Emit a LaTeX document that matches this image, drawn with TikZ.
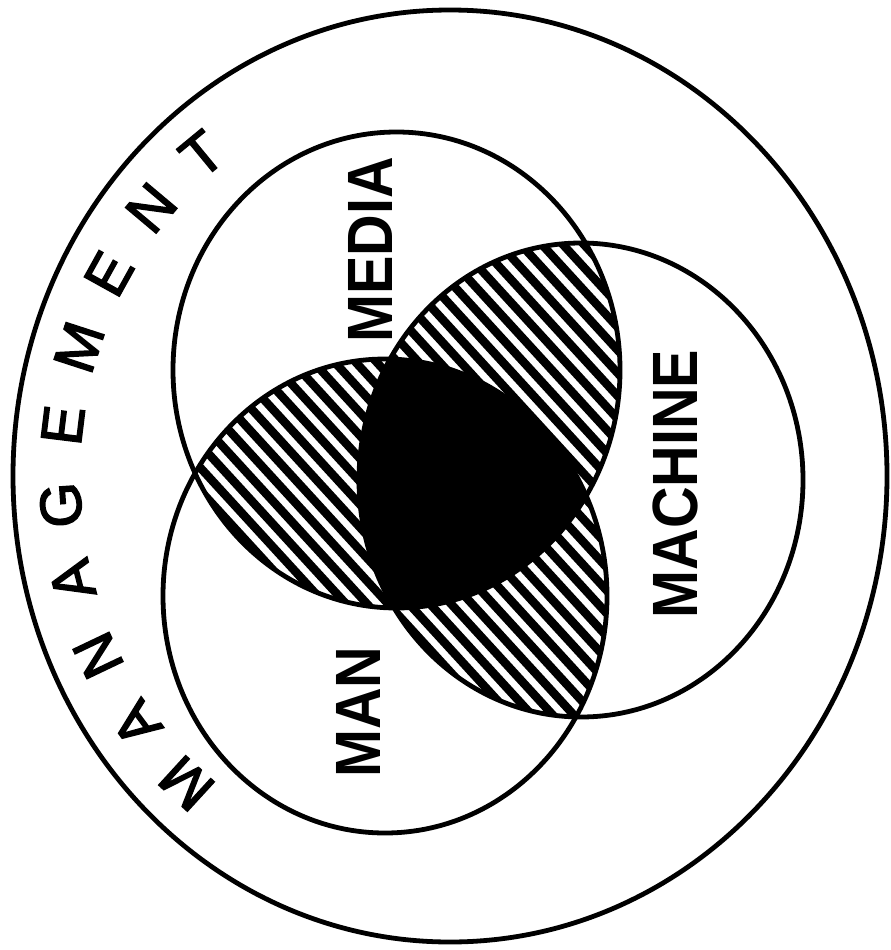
\documentclass[tikz,border=0pt]{standalone}
\usepackage{graphicx}
\usepackage{fontspec}
\setmainfont{Liberation Sans}
\newfontfamily\ringfont[FakeBold=2.5]{Liberation Sans}
\begin{document}
\begin{tikzpicture}[x=1pt,y=-1pt,
  ringline/.style={line width=4.8pt,black},
  hatchline/.style={line width=8.5pt,black},
  lbl/.style={font=\bfseries\fontsize{64}{64}\selectfont, inner sep=0pt, rotate=90},
  ltr/.style={font=\ringfont\fontsize{58}{58}\selectfont, inner sep=0pt}]
\useasboundingbox (0,0) rectangle (891,950);
% hatched lenses
\begin{scope}
  \clip (396.5,370) ellipse [x radius=223.5pt, y radius=238pt];
  \clip (385,596) ellipse [x radius=222pt, y radius=237pt];
  \foreach \c in {-900,-879,...,900} \draw[hatchline] (\c,0) -- ++(870,950);
\end{scope}
\begin{scope}
  \clip (396.5,370) ellipse [x radius=223.5pt, y radius=238pt];
  \clip (581,480) ellipse [x radius=222pt, y radius=237pt];
  \foreach \c in {-900,-879,...,900} \draw[hatchline] (\c,0) -- ++(870,950);
\end{scope}
\begin{scope}
  \clip (385,596) ellipse [x radius=222pt, y radius=237pt];
  \clip (581,480) ellipse [x radius=222pt, y radius=237pt];
  \foreach \c in {-900,-879,...,900} \draw[hatchline] (\c,0) -- ++(870,950);
\end{scope}
% solid centre
\begin{scope}
  \clip (396.5,370) ellipse [x radius=223.5pt, y radius=238pt];
  \clip (385,596) ellipse [x radius=222pt, y radius=237pt];
  \fill[black] (581,480) ellipse [x radius=222pt, y radius=237pt];
\end{scope}
% outlines
\draw[ringline] (450,476) ellipse [x radius=437pt, y radius=466pt];
\draw[ringline] (396.5,370) ellipse [x radius=223.5pt, y radius=238pt];
\draw[ringline] (581,480) ellipse [x radius=222pt, y radius=237pt];
\draw[ringline] (385,596) ellipse [x radius=222pt, y radius=237pt];
% labels
\node[lbl] (media) at (370,250) {\scalebox{0.9}[1]{MEDIA}};
\node[lbl] (machine) at (675,484) {\scalebox{0.9}[1]{MACHINE}};
\node[lbl] (man) at (358,712) {\scalebox{0.9}[1]{MAN}};
% ring text
\foreach \a/\t/\n in {227.5/M/l1, 216.5/A/l2, 205.5/N/l3, 194.5/A/l4, 184/G/l5, 173/E/l6, 162/M/l7, 151/E/l8, 140/N/l9, 129.5/T/l10}
  \node[ltr, rotate=\a-90] (\n) at ({450+390*cos(\a)},{476-417*sin(\a)}) {\t};
\end{tikzpicture}
\end{document}
